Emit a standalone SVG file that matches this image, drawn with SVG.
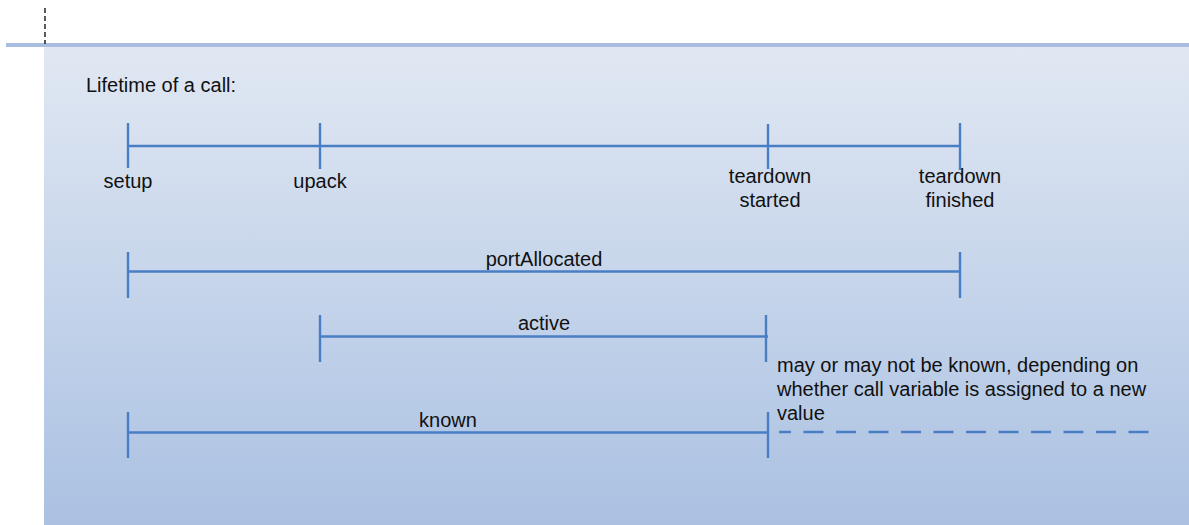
<svg xmlns="http://www.w3.org/2000/svg" width="1189" height="525" viewBox="0 0 1189 525">
  <defs>
    <linearGradient id="panelFill" x1="0" y1="0" x2="0" y2="1">
      <stop offset="0" stop-color="#e1e8f3"/>
      <stop offset="1" stop-color="#aac1e2"/>
    </linearGradient>
  </defs>
  <style>
    .bar { stroke: #4a7ec4; stroke-width: 2.4; fill: none; stroke-linecap: butt; }
    .dash { stroke: #4a7ec4; stroke-width: 2.4; fill: none; stroke-dasharray: 20 12.5; stroke-dashoffset: 8; }
    .lbl { font-family: "Liberation Sans", Arial, sans-serif; font-size: 20px; fill: #111111; }
    .mid { text-anchor: middle; }
  </style>

  <!-- backdrop panel with rule and guide -->
  <rect x="44" y="46" width="1145" height="479" fill="url(#panelFill)"/>
  <rect x="6" y="43" width="1183" height="4" fill="#a9bde0"/>
  <line x1="45" y1="8" x2="45" y2="44" stroke="#222" stroke-width="1.5" stroke-dasharray="5 3"/>

  <text class="lbl" x="86" y="92">Lifetime of a call:</text>

  <!-- timeline with milestone ticks -->
  <g id="timeline">
    <line class="bar" x1="128" y1="146" x2="960" y2="146"/>
    <g id="setup">
      <line class="bar" x1="128" y1="123" x2="128" y2="168"/>
      <text class="lbl mid" x="128" y="188">setup</text>
    </g>
    <g id="upack">
      <line class="bar" x1="320" y1="123" x2="320" y2="169"/>
      <text class="lbl mid" x="320" y="188">upack</text>
    </g>
    <g id="teardown-started">
      <line class="bar" x1="768" y1="124" x2="768" y2="169"/>
      <text class="lbl mid" x="770" y="183">teardown</text>
      <text class="lbl mid" x="770" y="207">started</text>
    </g>
    <g id="teardown-finished">
      <line class="bar" x1="960" y1="123" x2="960" y2="170"/>
      <text class="lbl mid" x="960" y="183">teardown</text>
      <text class="lbl mid" x="960" y="207">finished</text>
    </g>
  </g>

  <!-- interval spans -->
  <g id="portAllocated">
    <line class="bar" x1="128" y1="271.5" x2="960" y2="271.5"/>
    <line class="bar" x1="128" y1="252" x2="128" y2="298"/>
    <line class="bar" x1="960" y1="252" x2="960" y2="298"/>
    <text class="lbl mid" x="544" y="266">portAllocated</text>
  </g>

  <g id="active">
    <line class="bar" x1="320" y1="336.5" x2="768" y2="336.5"/>
    <line class="bar" x1="320" y1="315" x2="320" y2="362"/>
    <line class="bar" x1="766" y1="315" x2="766" y2="362"/>
    <text class="lbl mid" x="544" y="330">active</text>
  </g>

  <g id="known">
    <line class="bar" x1="128" y1="432.5" x2="768" y2="432.5"/>
    <line class="bar" x1="128" y1="412" x2="128" y2="458"/>
    <line class="bar" x1="768" y1="412" x2="768" y2="458"/>
    <text class="lbl mid" x="448" y="427">known</text>
  </g>

  <g id="connectors">
    <line class="dash" x1="779" y1="432" x2="1158" y2="432"/>
  </g>

  <g id="note">
    <text class="lbl" x="777" y="372">may or may not be known, depending on</text>
    <text class="lbl" x="777" y="396">whether call variable is assigned to a new</text>
    <text class="lbl" x="777" y="420">value</text>
  </g>
</svg>
